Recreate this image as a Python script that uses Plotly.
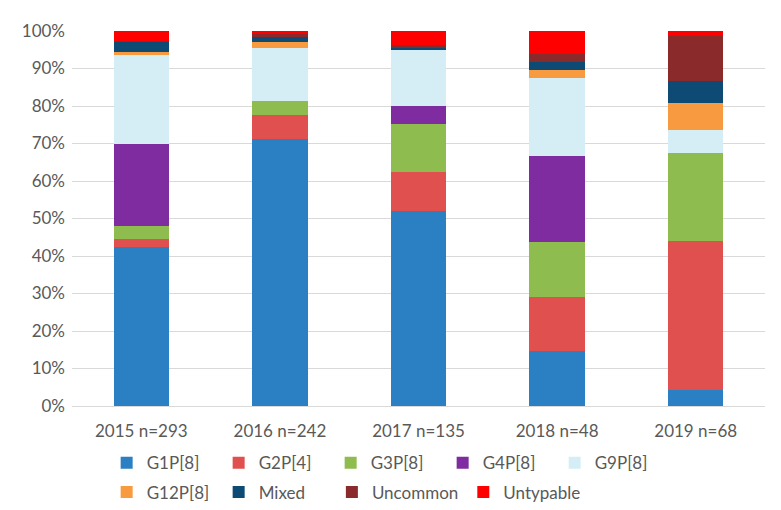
import plotly.graph_objects as go

categories = ["2015 n=293", "2016 n=242", "2017 n=135", "2018 n=48", "2019 n=68"]
series_names = ["G1P[8]", "G2P[4]", "G3P[8]", "G4P[8]", "G9P[8]", "G12P[8]", "Mixed", "Uncommon", "Untypable"]
g1p = [42.5, 71.1, 52.0, 14.6, 4.4]
g2p = [2.0, 6.6, 10.4, 14.6, 39.7]
g3p = [3.4, 3.7, 12.8, 14.6, 23.5]
g4p = [22.0, 0.0, 4.8, 22.9, 0.0]
g9p = [23.8, 14.1, 14.9, 20.8, 5.9]
g12p = [0.7, 1.6, 0.0, 2.1, 7.4]
mixed = [2.7, 1.3, 0.6, 2.1, 5.9]
uncommon = [0.3, 0.8, 0.8, 2.1, 11.8]
untypable = [2.6, 0.8, 3.7, 6.2, 1.5]
colors = ["#2a80c2", "#e0504f", "#8fbc4f", "#7e2ca0", "#d5eef5", "#f89a3f", "#0d4a74", "#8a2a2a", "#ff0000"]

values = [g1p, g2p, g3p, g4p, g9p, g12p, mixed, uncommon, untypable]
legend_of = ["legend"] * 5 + ["legend2"] * 2 + ["legend3"] * 2

fig = go.Figure()
for name, vals, col, lg in zip(series_names, values, colors, legend_of):
    fig.add_trace(go.Bar(x=categories, y=vals, name=name, legend=lg,
                         marker=dict(color=col, line=dict(width=0))))

font_family = "Lato, 'Open Sans', sans-serif"
legend_common = dict(orientation="h", xanchor="left", xref="paper", yanchor="top",
                     yref="container", traceorder="normal",
                     font=dict(size=17, color="#595959"), tracegroupgap=0)
fig.update_layout(
    barmode="stack",
    bargap=0.6,
    width=773, height=502,
    margin=dict(l=64, r=16, t=23, b=104, autoexpand=False),
    plot_bgcolor="white", paper_bgcolor="white",
    font=dict(family=font_family, size=17, color="#595959"),
    xaxis=dict(showline=True, linecolor="#d9d9d9", ticks="", ticklabelstandoff=10,
               tickfont=dict(size=17, color="#595959")),
    yaxis=dict(range=[0, 100], dtick=10, ticksuffix="%", showgrid=True, gridcolor="#d9d9d9",
               zeroline=False, ticks="", tickfont=dict(size=17, color="#595959"), ticklabelstandoff=6),
    legend=dict(x=0.05, y=0.129, entrywidth=67, **legend_common),
    legend2=dict(x=0.05, y=0.071, entrywidth=67, **legend_common),
    legend3=dict(x=0.375, y=0.071, **legend_common),
    showlegend=True,
)

fig.write_html("out.html")
